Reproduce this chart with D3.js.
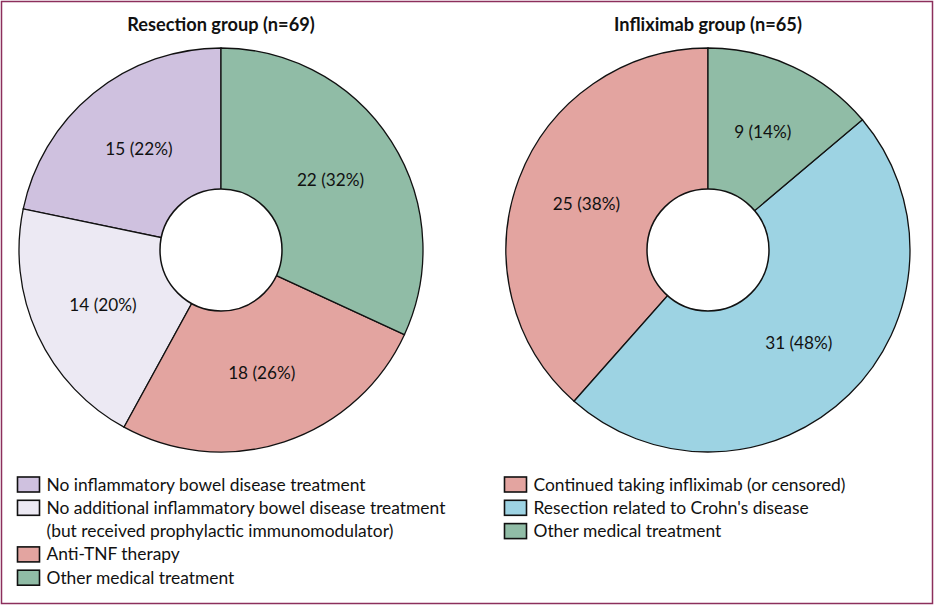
<!DOCTYPE html>
<html lang="en">
<head>
<meta charset="UTF-8">
<title>Treatment outcomes</title>
<style>
    body { margin: 0; background: #fff; }
    text { font-family: Lato, "Open Sans", sans-serif; fill: #111; }
    .title { font-weight: bold; font-size: 18.2px; }
    .slice-label { font-size: 17.2px; }
    .legend text { font-size: 17.4px; }
</style>
</head>
<body>
<script src="https://cdn.jsdelivr.net/npm/d3@7"></script>
<script>
    // data
    var resectionLabels = ['No inflammatory bowel disease treatment',
        'No additional inflammatory bowel disease treatment',
        'Anti-TNF therapy',
        'Other medical treatment']
    var resectionValues = [15, 14, 18, 22]
    var resectionPct = [22, 20, 26, 32]
    var resectionColors = ['#cfc1df', '#ece9f3', '#e3a4a0', '#90bca6']

    var inflixLabels = ['Continued taking infliximab (or censored)',
        'Resection related to Crohn\'s disease',
        'Other medical treatment']
    var inflixValues = [25, 31, 9]
    var inflixPct = [38, 48, 14]
    var inflixColors = ['#e3a4a0', '#9dd3e3', '#90bca6']

    var width = 934, height = 606
    var outerR = 202, innerR = 61, labelR = 130

    var svg = d3.select('body').append('svg')
        .attr('width', width)
        .attr('height', height)

    // frame
    svg.append('rect')
        .attr('x', 1.5).attr('y', 1.5)
        .attr('width', 931).attr('height', 602)
        .attr('fill', 'none')
        .attr('stroke', '#8c2f5c')
        .attr('stroke-width', 1.5)

    // slices go counter-clockwise from 12 o'clock in legend order
    var pie = d3.pie().sort(null).startAngle(0).endAngle(-2 * Math.PI)
    var arc = d3.arc().innerRadius(0).outerRadius(outerR)
    var labelArc = d3.arc().innerRadius(labelR).outerRadius(labelR)

    function drawDonut(cx, title, values, pct, colors) {
        var g = svg.append('g').attr('transform', 'translate(' + cx + ',250)')
        var arcs = pie(values)

        g.selectAll('path')
            .data(arcs)
            .enter()
            .append('path')
            .attr('d', arc)
            .attr('fill', (d, i) => colors[i])
            .attr('stroke', '#111')
            .attr('stroke-width', 1.3)

        g.append('circle')
            .attr('r', innerR)
            .attr('fill', '#fff')
            .attr('stroke', '#111')
            .attr('stroke-width', 1.5)

        g.selectAll('.slice-label')
            .data(arcs)
            .enter()
            .append('text')
            .attr('class', 'slice-label')
            .attr('transform', d => 'translate(' + labelArc.centroid(d) + ')')
            .attr('text-anchor', 'middle')
            .attr('dy', '0.35em')
            .text((d, i) => values[i] + ' (' + pct[i] + '%)')

        svg.append('text')
            .attr('class', 'title')
            .attr('x', cx)
            .attr('y', 31)
            .attr('text-anchor', 'middle')
            .text(title)
    }

    drawDonut(221, 'Resection group (n=69)', resectionValues, resectionPct, resectionColors)
    drawDonut(708, 'Infliximab group (n=65)', inflixValues, inflixPct, inflixColors)

    // legends
    function drawLegend(x, labels, colors, extra) {
        var lg = svg.append('g').attr('class', 'legend')
        var rowH = 23.3
        var row = 0
        labels.forEach(function (lab, i) {
            var y = 484.5 + row * rowH
            lg.append('rect')
                .attr('x', x).attr('y', y - 7.5)
                .attr('width', 22).attr('height', 15)
                .attr('fill', colors[i])
                .attr('stroke', '#111')
                .attr('stroke-width', 1.6)
            lg.append('text')
                .attr('x', x + 29).attr('y', y)
                .attr('dy', '0.35em')
                .text(lab)
            row++
            if (extra && extra[i]) {
                lg.append('text')
                    .attr('x', x + 29).attr('y', 484.5 + row * rowH)
                    .attr('dy', '0.35em')
                    .text(extra[i])
                row++
            }
        })
    }

    drawLegend(17.5, resectionLabels, resectionColors,
        {1: '(but received prophylactic immunomodulator)'})
    drawLegend(504.5, inflixLabels, inflixColors)
</script>
</body>
</html>
